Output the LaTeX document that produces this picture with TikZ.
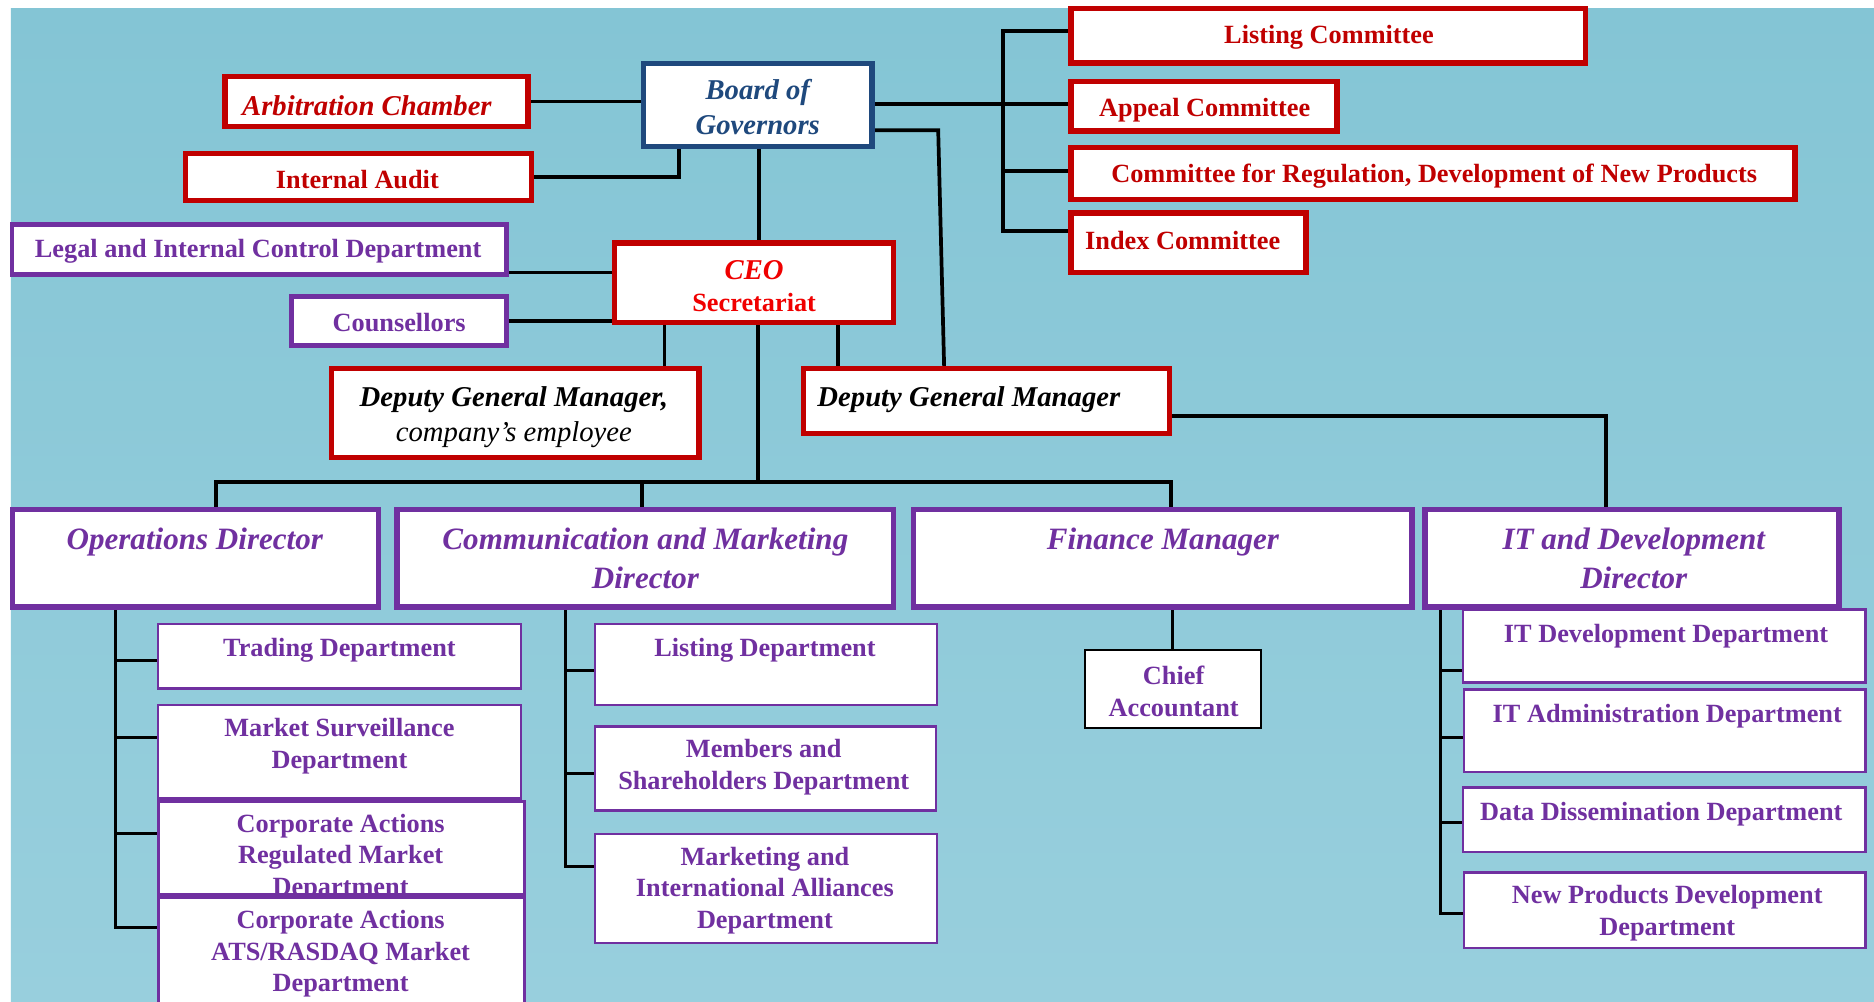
\documentclass[tikz,border=0pt]{standalone}
\usepackage{fontspec}
\setmainfont{Liberation Serif}
\pgfdeclarelayer{bg}
\pgfsetlayers{bg,main}
\definecolor{cred}{HTML}{C00000}
\definecolor{cceo}{HTML}{F00000}
\definecolor{cblue}{HTML}{1F497D}
\definecolor{cpur}{HTML}{7030A0}
\definecolor{bgtop}{HTML}{84C5D5}
\definecolor{bgbot}{HTML}{98CFDD}
\newcommand{\fntb}{\fontsize{22}{26.5}\selectfont\bfseries}
\newcommand{\fntbi}{\fontsize{24}{29.5}\selectfont\bfseries\itshape}
\newcommand{\fnti}{\fontsize{24}{29.5}\selectfont\mdseries\itshape}
\newcommand{\fntdir}{\fontsize{26}{33}\selectfont\bfseries\itshape}
% name, style, line width, x1, y1, x2, y2 (outer extents)
\newcommand{\orgbox}[7]{%
  \node[#2, line width=#3pt, minimum width={(#6-#4-#3)*1pt}, minimum height={(#7-#5-#3)*1pt}] (#1) at ({(#4+#6)/2},{(#5+#7)/2}) {};}
\begin{document}
\begin{tikzpicture}[x=1pt,y=-1pt,
  orgb/.style={draw, fill=white, inner sep=0pt, outer sep=0pt},
  redb/.style={orgb, draw=cred},
  blueb/.style={orgb, draw=cblue},
  purb/.style={orgb, draw=cpur},
  blackb/.style={orgb, draw=black},
  txt/.style={inner sep=0pt, outer sep=0pt, align=center, yshift=-2pt},
  conn/.style={draw=black, line width=3.1pt, line join=miter},
  dconn/.style={draw=black, line width=2.5pt, line join=miter}]
\useasboundingbox (0,0) rectangle (1568,838);
\begin{pgfonlayer}{bg}
\fill[white] (0,0) rectangle (1568,838);
\shade[top color=bgtop, bottom color=bgbot] (9,7) rectangle (1568,838);
\end{pgfonlayer}

% committees
\orgbox{listing}{redb}{4.5}{894}{5}{1329}{55}
\node[txt, text=cred, font=\fntb] (listing-t) at (1112,29) {Listing Committee};
\orgbox{appeal}{redb}{4.5}{894}{66}{1121}{112}
\node[txt, text=cred, font=\fntb] (appeal-t) at (1008,90) {Appeal Committee};
\orgbox{committee}{redb}{4.5}{894}{121}{1504}{169}
\node[txt, text=cred, font=\fntb] (committee-t) at (1200,145) {Committee for Regulation, Development of New Products};
\orgbox{index}{redb}{4.5}{894}{176}{1095}{230}
\node[txt, anchor=west, text=cred, font=\fntb] (index-t) at (908,199) {Index Committee};

% board
\orgbox{board}{blueb}{4.5}{536}{51}{732}{125}
\node[txt, text=cblue, font=\fntbi] (board-t) at (634,87.5) {Board of\\Governors};
\orgbox{arb}{redb}{4.5}{186}{62}{444}{108}
\node[txt, text=cred, font=\fntbi] (arb-t) at (307,86.5) {Arbitration Chamber};
\orgbox{ia}{redb}{4.5}{153}{126}{447}{170}
\node[txt, text=cred, font=\fntb] (ia-t) at (299,148) {Internal Audit};

% CEO level
\orgbox{legal}{purb}{4}{8}{186}{426}{232}
\node[txt, text=cpur, font=\fntb] (legal-t) at (216,208) {Legal and Internal Control Department};
\orgbox{couns}{purb}{4}{242}{246}{426}{291}
\node[txt, text=cpur, font=\fntb] (couns-t) at (334,268) {Counsellors};
\orgbox{ceo}{redb}{4.5}{512}{201}{750}{272}
\node[txt, text=cceo, font=\fntb] (ceo-t) at (631,237.5) {{\fntbi CEO}\\Secretariat};
\orgbox{dgml}{redb}{4.5}{275}{306}{587}{385}
\node[txt, font=\fntbi] (dgml-t) at (430,347) {Deputy General Manager,\\{\fnti company’s employee}};
\orgbox{dgmr}{redb}{4.5}{670}{306}{981}{365}
\node[txt, anchor=west, font=\fntbi] (dgmr-t) at (684,332) {Deputy General Manager};

% departments: operations
\orgbox{trading}{purb}{2}{131}{521}{437}{577}
\node[txt, text=cpur, font=\fntb] (trading-t) at (284,542) {Trading Department};
\orgbox{msurv}{purb}{2}{131}{589}{437}{669}
\node[txt, text=cpur, font=\fntb] (msurv-t) at (284,622.5) {Market Surveillance\\Department};
\orgbox{creg}{purb}{2.5}{131}{669}{440}{750}
\node[txt, text=cpur, font=\fntb] (creg-t) at (285,715.5) {Corporate Actions\\Regulated Market\\Department};
\orgbox{cats}{purb}{2.5}{131}{750}{440}{850}
\node[txt, text=cpur, font=\fntb] (cats-t) at (285,796) {Corporate Actions\\ATS/RASDAQ Market\\Department};

% departments: communication
\orgbox{listingd}{purb}{2}{497}{521}{785}{591}
\node[txt, text=cpur, font=\fntb] (listingd-t) at (640,542) {Listing Department};
\orgbox{members}{purb}{2}{497}{607}{784}{679}
\node[txt, text=cpur, font=\fntb] (members-t) at (639,640) {Members and\\Shareholders Department};
\orgbox{marketing}{purb}{2}{497}{697}{785}{790}
\node[txt, text=cpur, font=\fntb] (marketing-t) at (640,743) {Marketing and\\International Alliances\\Department};

% finance
\orgbox{chief}{blackb}{1.8}{907}{543}{1056}{610}
\node[txt, text=cpur, font=\fntb] (chief-t) at (982,576.5) {Chief\\Accountant};

% IT
\orgbox{itdev}{purb}{2}{1223}{509}{1562}{572}
\node[txt, text=cpur, font=\fntb] (itdev-t) at (1394,530) {IT Development Department};
\orgbox{itadm}{purb}{2}{1224}{576}{1562}{647}
\node[txt, text=cpur, font=\fntb] (itadm-t) at (1395,597) {IT Administration Department};
\orgbox{datad}{purb}{2}{1223}{658}{1562}{714}
\node[txt, text=cpur, font=\fntb] (datad-t) at (1390,679) {Data Dissemination Department};
\orgbox{newp}{purb}{2}{1224}{729}{1562}{794}
\node[txt, text=cpur, font=\fntb] (newp-t) at (1395,762) {New Products Development\\Department};

% directors
\orgbox{ops}{purb}{4.8}{8}{424}{319}{510}
\node[txt, text=cpur, font=\fntdir] (ops-t) at (163,451.5) {Operations Director};
\orgbox{comm}{purb}{4.8}{330}{424}{750}{510}
\node[txt, text=cpur, font=\fntdir] (comm-t) at (540,465) {Communication and Marketing\\Director};
\orgbox{fin}{purb}{4.8}{762}{424}{1184}{510}
\node[txt, text=cpur, font=\fntdir] (fin-t) at (973,451.5) {Finance Manager};
\orgbox{it}{purb}{4.8}{1190}{424}{1541}{510}
\node[txt, text=cpur, font=\fntdir] (it-t) at (1367,465) {IT and Development\\Director};

% connectors
\begin{pgfonlayer}{bg}
\draw[conn] (arb.east) -- (arb.east -| board.west);
\draw[conn] (ia.east) -| (board.south -| 568,0);
\draw[conn] (board.east |- 0,87) -- (appeal.west |- 0,87);
\draw[conn] (listing.west |- 0,26) -- (839,26) -- (839,193) -- (index.west |- 0,193);
\draw[conn] (839,143) -- (committee.west |- 0,143);
\draw[conn] (board.south -| 635,0) -- (ceo.north -| 635,0);
\draw[conn] (board.east |- 0,109) -- (785,109) -- (dgmr.north -| 790,0);
\draw[conn] (legal.east |- 0,228) -- (ceo.west |- 0,228);
\draw[conn] (couns.east) -- (couns.east -| ceo.west);
\draw[conn] (ceo.south -| 556,0) -- (dgml.north -| 556,0);
\draw[conn] (ceo.south -| 701,0) -- (dgmr.north -| 701,0);
\draw[conn] (ceo.south -| 634,0) -- (634,403);
\draw[conn] (ops.north -| 181,0) -- (181,403) -- (980,403) -- (fin.north -| 980,0);
\draw[conn] (comm.north -| 537,0) -- (537,403);
\draw[conn] (dgmr.east |- 0,348) -| (it.north -| 1344,0);
\draw[dconn] (ops.south -| 97,0) |- (cats.west |- 0,776);
\draw[dconn] (97,553) -- (trading.west |- 0,553);
\draw[dconn] (97,617) -- (msurv.west |- 0,617);
\draw[dconn] (97,697) -- (creg.west |- 0,697);
\draw[dconn] (comm.south -| 473,0) |- (marketing.west |- 0,725);
\draw[dconn] (473,561) -- (listingd.west |- 0,561);
\draw[dconn] (473,647) -- (members.west |- 0,647);
\draw[dconn] (fin.south -| 981,0) -- (chief.north -| 981,0);
\draw[dconn] (it.south -| 1205,0) |- (newp.west |- 0,764);
\draw[dconn] (1205,561) -- (itdev.west |- 0,561);
\draw[dconn] (1205,617) -- (itadm.west |- 0,617);
\draw[dconn] (1205,688) -- (datad.west |- 0,688);
\end{pgfonlayer}
\end{tikzpicture}
\end{document}
